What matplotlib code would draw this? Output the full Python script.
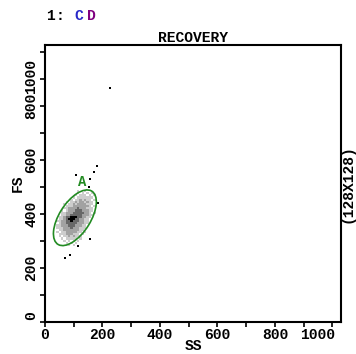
import numpy as np
import matplotlib
matplotlib.use("Agg")
import matplotlib.pyplot as plt
from matplotlib.patches import Ellipse
from matplotlib.colors import ListedColormap
import matplotlib.transforms as mtransforms

# ==============================
# Data
# ==============================
n_bins = 128
full_scale = 1024
bin_w = full_scale / n_bins

# density levels of the 128x128 histogram around the cluster
# rows: FS bin 61 (top) down to 34, cols: SS bin 4 .. 22
x_bin0 = 4
y_bin_top = 61
density_rows = [
    "0000000000000000000",
    "0000000000100100000",
    "0000000000101010100",
    "0000000001011101010",
    "0000000010111111100",
    "0000000101121211010",
    "0000010112122121100",
    "0000101121222211100",
    "0000011122222221010",
    "0000112222322211100",
    "0001012223332221100",
    "0001122233333221010",
    "0001122333332221100",
    "0011233444332211000",
    "0011234443322110000",
    "0112233433322110000",
    "0012233333222110000",
    "0112223332221100000",
    "0111222322211100000",
    "0011222222211000000",
    "0101122222110100000",
    "0011122211101000000",
    "0010112121110000000",
    "0001011111010000000",
    "0000101010100000000",
    "0000010101000000000",
    "0000001010000000000",
    "0000000000000000000",
]

# stray events outside the main cloud
outlier_ss = [227, 182, 172, 158, 154, 109, 186, 158, 88, 71, 116]
outlier_fs = [867, 578, 556, 530, 500, 544, 441, 307, 248, 237, 281]

# gate A
gate_center = (104, 385)
gate_width = 230
gate_height = 110
gate_angle = 60
gate_label_pos = (128, 518)

x_ticks = [0, 100, 200, 300, 400, 500, 600, 700, 800, 900, 1000]
x_ticklabels = ["0", "", "200", "", "400", "", "600", "", "800", "", "1000"]
y_ticks = x_ticks
y_ticklabels = x_ticklabels

# ==============================
# Plot
# ==============================
font = "Liberation Mono"
fig = plt.figure(figsize=(3.56, 3.54), dpi=100)
ax = fig.add_axes([0.1264, 0.0918, 0.8315, 0.781])

grid = np.array([[int(c) for c in row] for row in density_rows][::-1], dtype=float)
grid = np.ma.masked_equal(grid, 0)
ny, nx = grid.shape
x_edges = (x_bin0 + np.arange(nx + 1)) * bin_w
y_edges = (y_bin_top - ny + 1 + np.arange(ny + 1)) * bin_w
cmap = ListedColormap(["#cdcdcd", "#a2a2a2", "#686868", "#000000"])
ax.pcolormesh(x_edges, y_edges, grid, cmap=cmap, vmin=0.5, vmax=4.5)

ax.scatter(outlier_ss, outlier_fs, s=1.5, marker="s", color="black", linewidths=0)

gate = Ellipse(gate_center, gate_width, gate_height, angle=gate_angle,
               fill=False, edgecolor="#228B22", linewidth=1.2)
ax.add_patch(gate)
ax.text(gate_label_pos[0], gate_label_pos[1], "A", color="#228B22",
        fontsize=10, fontweight="bold", family=font, ha="center", va="center")

ax.set_xlim(0, 1030)
ax.set_ylim(0, 1026)

ax.set_xticks(x_ticks)
ax.set_xticklabels(x_ticklabels, family=font, fontweight="bold", fontsize=10.5)
ax.set_yticks(y_ticks)
ax.set_yticklabels(y_ticklabels, family=font, fontweight="bold", fontsize=10.5,
                   rotation=90, va="center")
ax.tick_params(direction="out", length=3.5, width=1.2, pad=1)
ax.tick_params(axis="y", pad=1.5)
for s in ax.spines.values():
    s.set_linewidth(1.5)

# end labels are pulled inside the frame like the original
xl = ax.get_xticklabels()
xl[-1].set_transform(xl[-1].get_transform() +
                     mtransforms.ScaledTranslation(-15 / 100, 0, fig.dpi_scale_trans))
yl = ax.get_yticklabels()
yl[-1].set_transform(yl[-1].get_transform() +
                     mtransforms.ScaledTranslation(0, -24 / 100, fig.dpi_scale_trans))
yl[0].set_transform(yl[0].get_transform() +
                    mtransforms.ScaledTranslation(0, 6 / 100, fig.dpi_scale_trans))

ax.set_xlabel("SS", family=font, fontweight="bold", fontsize=10.5)
ax.set_ylabel("FS", family=font, fontweight="bold", fontsize=10.5)
ax.xaxis.set_label_coords(0.5, -0.088)
ax.yaxis.set_label_coords(-0.091, 0.5)
ax.xaxis.label.set_va("center")
ax.yaxis.label.set_va("center")

fig.text(0.541, 0.894, "RECOVERY", family=font, fontweight="bold", fontsize=10.5,
         ha="center", va="center")
fig.text(0.9775, 0.48, "(128X128)", family=font, fontweight="bold", fontsize=10.5,
         rotation=90, ha="center", va="center")

fig.text(50 / 356, 1 - 16 / 354, "1", family=font, fontweight="bold", fontsize=10.5,
         ha="center", va="center")
fig.text(60 / 356, 1 - 16 / 354, ":", family=font, fontweight="bold", fontsize=10.5,
         ha="center", va="center")
fig.text(78.5 / 356, 1 - 16 / 354, "C", family=font, fontweight="bold", fontsize=10.5,
         ha="center", va="center", color="#2828c8")
fig.text(91.5 / 356, 1 - 16 / 354, "D", family=font, fontweight="bold", fontsize=10.5,
         ha="center", va="center", color="#800080")

fig.savefig("out.png", dpi=100)
